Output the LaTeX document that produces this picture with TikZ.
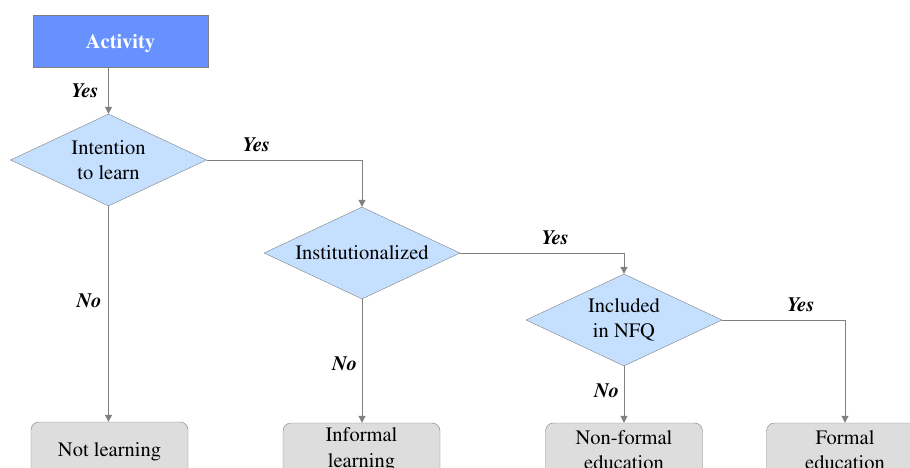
\documentclass[tikz,border=0pt]{standalone}
\usepackage[T1]{fontenc}
\usepackage{mathptmx}
\definecolor{actblue}{RGB}{102, 145, 255}
\definecolor{askblue}{RGB}{197, 224, 255}
\definecolor{endgray}{RGB}{221, 221, 221}
\definecolor{linegray}{RGB}{128, 128, 128}
\usetikzlibrary{shapes.geometric, arrows.meta}

\begin{document}
\begin{tikzpicture}[x=1pt, y=-1pt,
    every node/.style={font=\fontsize{20.5}{25.5}\selectfont},
    startbox/.style={draw=linegray, fill=actblue, text=white, font=\fontsize{20.5}{25.5}\selectfont\bfseries,
      minimum width=175pt, minimum height=52pt, inner sep=0pt, text height=16pt, text depth=1pt},
    askbox/.style={diamond, draw=linegray, fill=askblue, align=center,
      minimum width=196pt, minimum height=92pt, inner sep=0pt, aspect=2.13},
    endbox/.style={draw=linegray, fill=endgray, rounded corners=8pt, align=center,
      minimum width=157pt, minimum height=54pt, inner sep=0pt},
    flow/.style={draw=linegray, line width=1pt, -{Triangle[length=7pt, width=7pt]}},
    answer/.style={font=\fontsize{20.5}{25.5}\selectfont\bfseries\itshape}]
  \useasboundingbox (0, 0) rectangle (910, 468);
  \clip (0, 0) rectangle (910, 468);

  \node[startbox] (act) at (120.5, 41) {Activity};

  \node[askbox] (intent) at (108.5, 160) {Intention\\to learn};
  \node[askbox] (inst) at (362, 253) {Institutionalized};
  \node[askbox] (nfq) at (624, 320) {Included\\in NFQ};

  \node[endbox, text height=16pt, text depth=1pt] (notlearn) at (109.5, 449) {Not learning};
  \node[endbox] (informal) at (361.5, 450) {Informal\\learning};
  \node[endbox] (nonformal) at (624, 450) {Non-formal\\education};
  \node[endbox] (formal) at (845, 450) {Formal\\education};

  \draw[flow] (act.south -| intent.north) -- (intent.north) node[answer, midway, left=6pt] {Yes};
  \draw[flow] (intent.east) -| (inst.north) node[answer, pos=0.16, above=4pt] {Yes};
  \draw[flow] (intent.south) -- (notlearn.north -| intent.south) node[answer, pos=0.44, left=3pt] {No};
  \draw[flow] (inst.east) -| (nfq.north) node[answer, pos=0.29, above=4pt] {Yes};
  \draw[flow] (inst.south) -- (informal.north -| inst.south) node[answer, pos=0.52, left=1pt] {No};
  \draw[flow] (nfq.east) -| (formal.north) node[answer, pos=0.32, above=4pt] {Yes};
  \draw[flow] (nfq.south) -- (nonformal.north) node[answer, pos=0.43, left=1pt] {No};
\end{tikzpicture}
\end{document}
